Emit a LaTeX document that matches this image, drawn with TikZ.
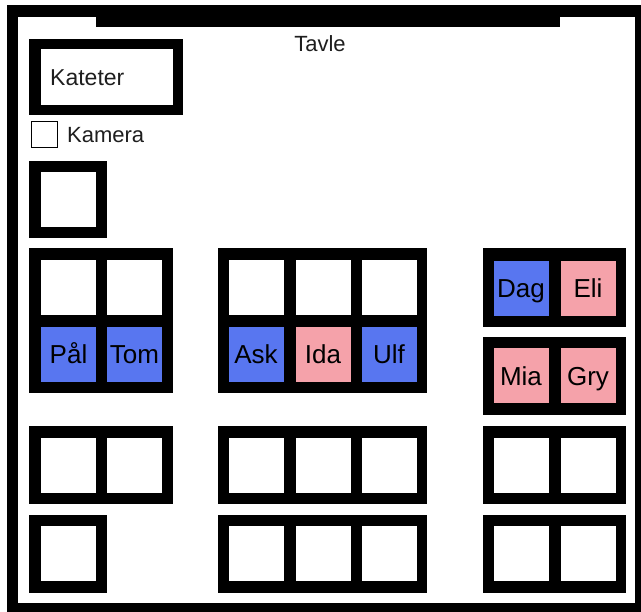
\documentclass[tikz,border=0pt]{standalone}
\usepackage{fontspec}
\setmainfont{Liberation Sans}
\definecolor{boyblue}{RGB}{88,118,240}
\definecolor{girlpink}{RGB}{245,162,170}
\definecolor{labeltext}{RGB}{30,30,30}
\begin{document}
\begin{tikzpicture}[x=1pt,y=-1pt,
  cell/.style={rectangle,fill=white,draw=none,inner sep=0pt,minimum width=55pt,minimum height=55pt,
    font=\fontsize{26}{30}\selectfont,text height=18.6pt,text depth=0pt,text=black},
  boy/.style={cell,fill=boyblue},
  girl/.style={cell,fill=girlpink},
  desk/.style={fill=black},
  lbl/.style={inner sep=0pt,anchor=base west,text=labeltext,font=\fontsize{23}{27}\selectfont}
]
\useasboundingbox (0,0) rectangle (641,612);
\fill[white] (0,0) rectangle (641,612);
% room frame
\fill[black] (7,5) rectangle (641,612);
\fill[white] (18,17) rectangle (635,603);
% board
\fill[black] (96,5) rectangle (560,27);
\node[inner sep=0pt,anchor=base,text=labeltext,font=\fontsize{22}{26}\selectfont] (tavle) at (320,52) {Tavle};
% teacher desk
\fill[desk] (29,39) rectangle (183,115);
\node[rectangle,fill=white,inner sep=0pt,minimum width=132pt,minimum height=56pt] (kateter) at (107,77) {};
\node[lbl] (katetertxt) at (50,86) {Kateter};
% camera
\node[rectangle,draw=black,line width=1pt,fill=white,inner sep=0pt,minimum width=26pt,minimum height=26pt] (kamera) at (44.5,134.5) {};
\node[lbl,font=\fontsize{22}{26}\selectfont] (kameratxt) at (67,143) {Kamera};
% single desk near teacher
\fill[desk] (29,161) rectangle (107,238);
\node[cell] (s1) at (68.5,199.5) {};
% group A (rows 1-2)
\fill[desk] (29,248) rectangle (173,393);
\node[cell] (a11) at (68.5,288) {};
\node[cell] (a12) at (134.5,288) {};
\node[boy] (a21) at (68.5,354.5) {Pål};
\node[boy] (a22) at (134.5,354.5) {Tom};
% group B (rows 1-2)
\fill[desk] (218,248) rectangle (427,393);
\node[cell] (b11) at (256,288) {};
\node[cell] (b12) at (323,288) {};
\node[cell] (b13) at (389,288) {};
\node[boy] (b21) at (256,354.5) {Ask};
\node[girl] (b22) at (323,354.5) {Ida};
\node[boy] (b23) at (389,354.5) {Ulf};
% group C
\fill[desk] (483,248) rectangle (626,327);
\node[boy] (c11) at (521,288.5) {Dag};
\node[girl] (c12) at (588,288.5) {Eli};
\fill[desk] (483,337) rectangle (626,415);
\node[girl] (c21) at (521,376) {Mia};
\node[girl] (c22) at (588,376) {Gry};
% row 4
\fill[desk] (29,426) rectangle (173,504);
\node[cell] (a41) at (68.5,465.5) {};
\node[cell] (a42) at (134.5,465.5) {};
\fill[desk] (218,426) rectangle (427,504);
\node[cell] (b41) at (256,465.5) {};
\node[cell] (b42) at (323,465.5) {};
\node[cell] (b43) at (389,465.5) {};
\fill[desk] (483,426) rectangle (626,504);
\node[cell] (c41) at (521,465.5) {};
\node[cell] (c42) at (588,465.5) {};
% row 5
\fill[desk] (29,515) rectangle (107,593);
\node[cell] (a51) at (68.5,554) {};
\fill[desk] (218,515) rectangle (427,593);
\node[cell] (b51) at (256,554) {};
\node[cell] (b52) at (323,554) {};
\node[cell] (b53) at (389,554) {};
\fill[desk] (483,515) rectangle (626,593);
\node[cell] (c51) at (521,554) {};
\node[cell] (c52) at (588,554) {};
\end{tikzpicture}
\end{document}
